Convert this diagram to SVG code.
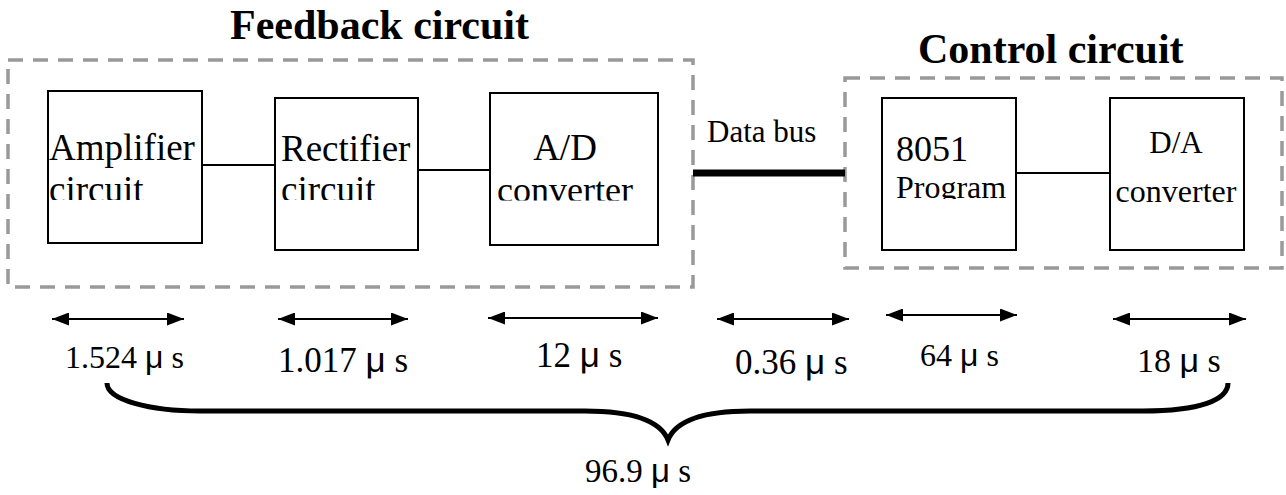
<svg xmlns="http://www.w3.org/2000/svg" width="1286" height="495" viewBox="0 0 1286 495">
  <style>
    .box { fill: #ffffff; stroke: #000000; stroke-width: 2; }
    .grp { fill: none; stroke: #999999; stroke-width: 3.5; stroke-dasharray: 15 10; }
    .lbl { font-family: "Liberation Serif", "Times New Roman", serif; fill: #000000; }
    .title { font-family: "Liberation Serif", "Times New Roman", serif; font-weight: bold; font-size: 42px; fill: #000000; }
    .mu { font-family: "Liberation Sans", Arial, sans-serif; }
    .wire { stroke: #000000; stroke-width: 2; fill: none; }
    .dim { stroke: #000000; stroke-width: 2; fill: none; marker-start: url(#ah); marker-end: url(#ah); }
  </style>
  <defs>
    <marker id="ah" markerUnits="userSpaceOnUse" markerWidth="17" markerHeight="13" refX="17" refY="6.5" orient="auto-start-reverse" viewBox="0 0 17 13">
      <path d="M0,0 L17,6.5 L0,13 z" fill="#000000"/>
    </marker>
    <clipPath id="clipAmp"><rect x="40" y="80" width="170" height="120"/></clipPath>
    <clipPath id="clipRect"><rect x="270" y="80" width="160" height="120"/></clipPath>
    <clipPath id="clipAD"><rect x="480" y="80" width="190" height="120.5"/></clipPath>
    <clipPath id="clipProg"><rect x="880" y="80" width="140" height="119"/></clipPath>
  </defs>

  <rect width="1286" height="495" fill="#ffffff"/>

  <g id="feedback-circuit">
    <rect class="grp" x="8" y="60" width="685" height="227"/>
    <text class="title" x="230" y="39">Feedback circuit</text>
  </g>

  <g id="control-circuit">
    <rect class="grp" x="845" y="78" width="437" height="190"/>
    <text class="title" x="918" y="63">Control circuit</text>
  </g>

  <g id="connectors">
    <line class="wire" x1="202" y1="165" x2="275" y2="165"/>
    <line class="wire" x1="418" y1="170" x2="490" y2="170"/>
    <line class="wire" x1="1016" y1="173" x2="1110" y2="173"/>
    <line x1="693" y1="173" x2="845" y2="173" stroke="#000000" stroke-width="7"/>
  </g>

  <g id="amplifier">
    <rect class="box" x="48" y="91" width="154" height="152"/>
    <g clip-path="url(#clipAmp)">
      <text class="lbl" x="49" y="160" font-size="37">Amplifier</text>
      <text class="lbl" x="49" y="202" font-size="37">circuit</text>
    </g>
  </g>

  <g id="rectifier">
    <rect class="box" x="275" y="98" width="143" height="152"/>
    <g clip-path="url(#clipRect)">
      <text class="lbl" x="281" y="161" font-size="37">Rectifier</text>
      <text class="lbl" x="281" y="202" font-size="37">circuit</text>
    </g>
  </g>

  <g id="ad-converter">
    <rect class="box" x="490" y="93" width="168" height="152"/>
    <g clip-path="url(#clipAD)">
      <text class="lbl" x="565" y="160" font-size="37" text-anchor="middle">A/D</text>
      <text class="lbl" x="565" y="202" font-size="36" text-anchor="middle">converter</text>
    </g>
  </g>

  <g id="data-bus">
    <text class="lbl" x="707" y="142" font-size="31">Data bus</text>
  </g>

  <g id="program-8051">
    <rect class="box" x="882" y="98" width="134" height="152"/>
    <text class="lbl" x="896" y="161" font-size="36">8051</text>
    <g clip-path="url(#clipProg)">
      <text class="lbl" x="896" y="198" font-size="32">Program</text>
    </g>
  </g>

  <g id="da-converter">
    <rect class="box" x="1110" y="98" width="134" height="152"/>
    <text class="lbl" x="1176" y="153" font-size="31" text-anchor="middle">D/A</text>
    <text class="lbl" x="1176" y="202" font-size="32" text-anchor="middle">converter</text>
  </g>

  <g id="timings">
    <line class="dim" x1="52" y1="319" x2="184" y2="319"/>
    <line class="dim" x1="278" y1="319" x2="408" y2="319"/>
    <line class="dim" x1="488" y1="318" x2="658" y2="318"/>
    <line class="dim" x1="717" y1="319" x2="849" y2="319"/>
    <line class="dim" x1="886" y1="315" x2="1017" y2="315"/>
    <line class="dim" x1="1113" y1="319" x2="1246" y2="319"/>

    <text class="lbl" x="65" y="368" font-size="32">1.524 <tspan class="mu">μ</tspan> s</text>
    <text class="lbl" x="278" y="372" font-size="35">1.017 <tspan class="mu">μ</tspan> s</text>
    <text class="lbl" x="536" y="367" font-size="35">12 <tspan class="mu">μ</tspan> s</text>
    <text class="lbl" x="735" y="374" font-size="35">0.36 <tspan class="mu">μ</tspan> s</text>
    <text class="lbl" x="920" y="366" font-size="32">64 <tspan class="mu">μ</tspan> s</text>
    <text class="lbl" x="1137" y="372" font-size="34">18 <tspan class="mu">μ</tspan> s</text>
  </g>

  <g id="total">
    <path d="M107,383 C107,400 150,411 200,411 L585,411 C630,411 660,420 668,440 C676,420 706,411 750,411 L1143,411 C1200,411 1228,400 1228,383" fill="none" stroke="#000000" stroke-width="5"/>
    <text class="lbl" x="585" y="482" font-size="33">96.9 <tspan class="mu">μ</tspan> s</text>
  </g>
</svg>
